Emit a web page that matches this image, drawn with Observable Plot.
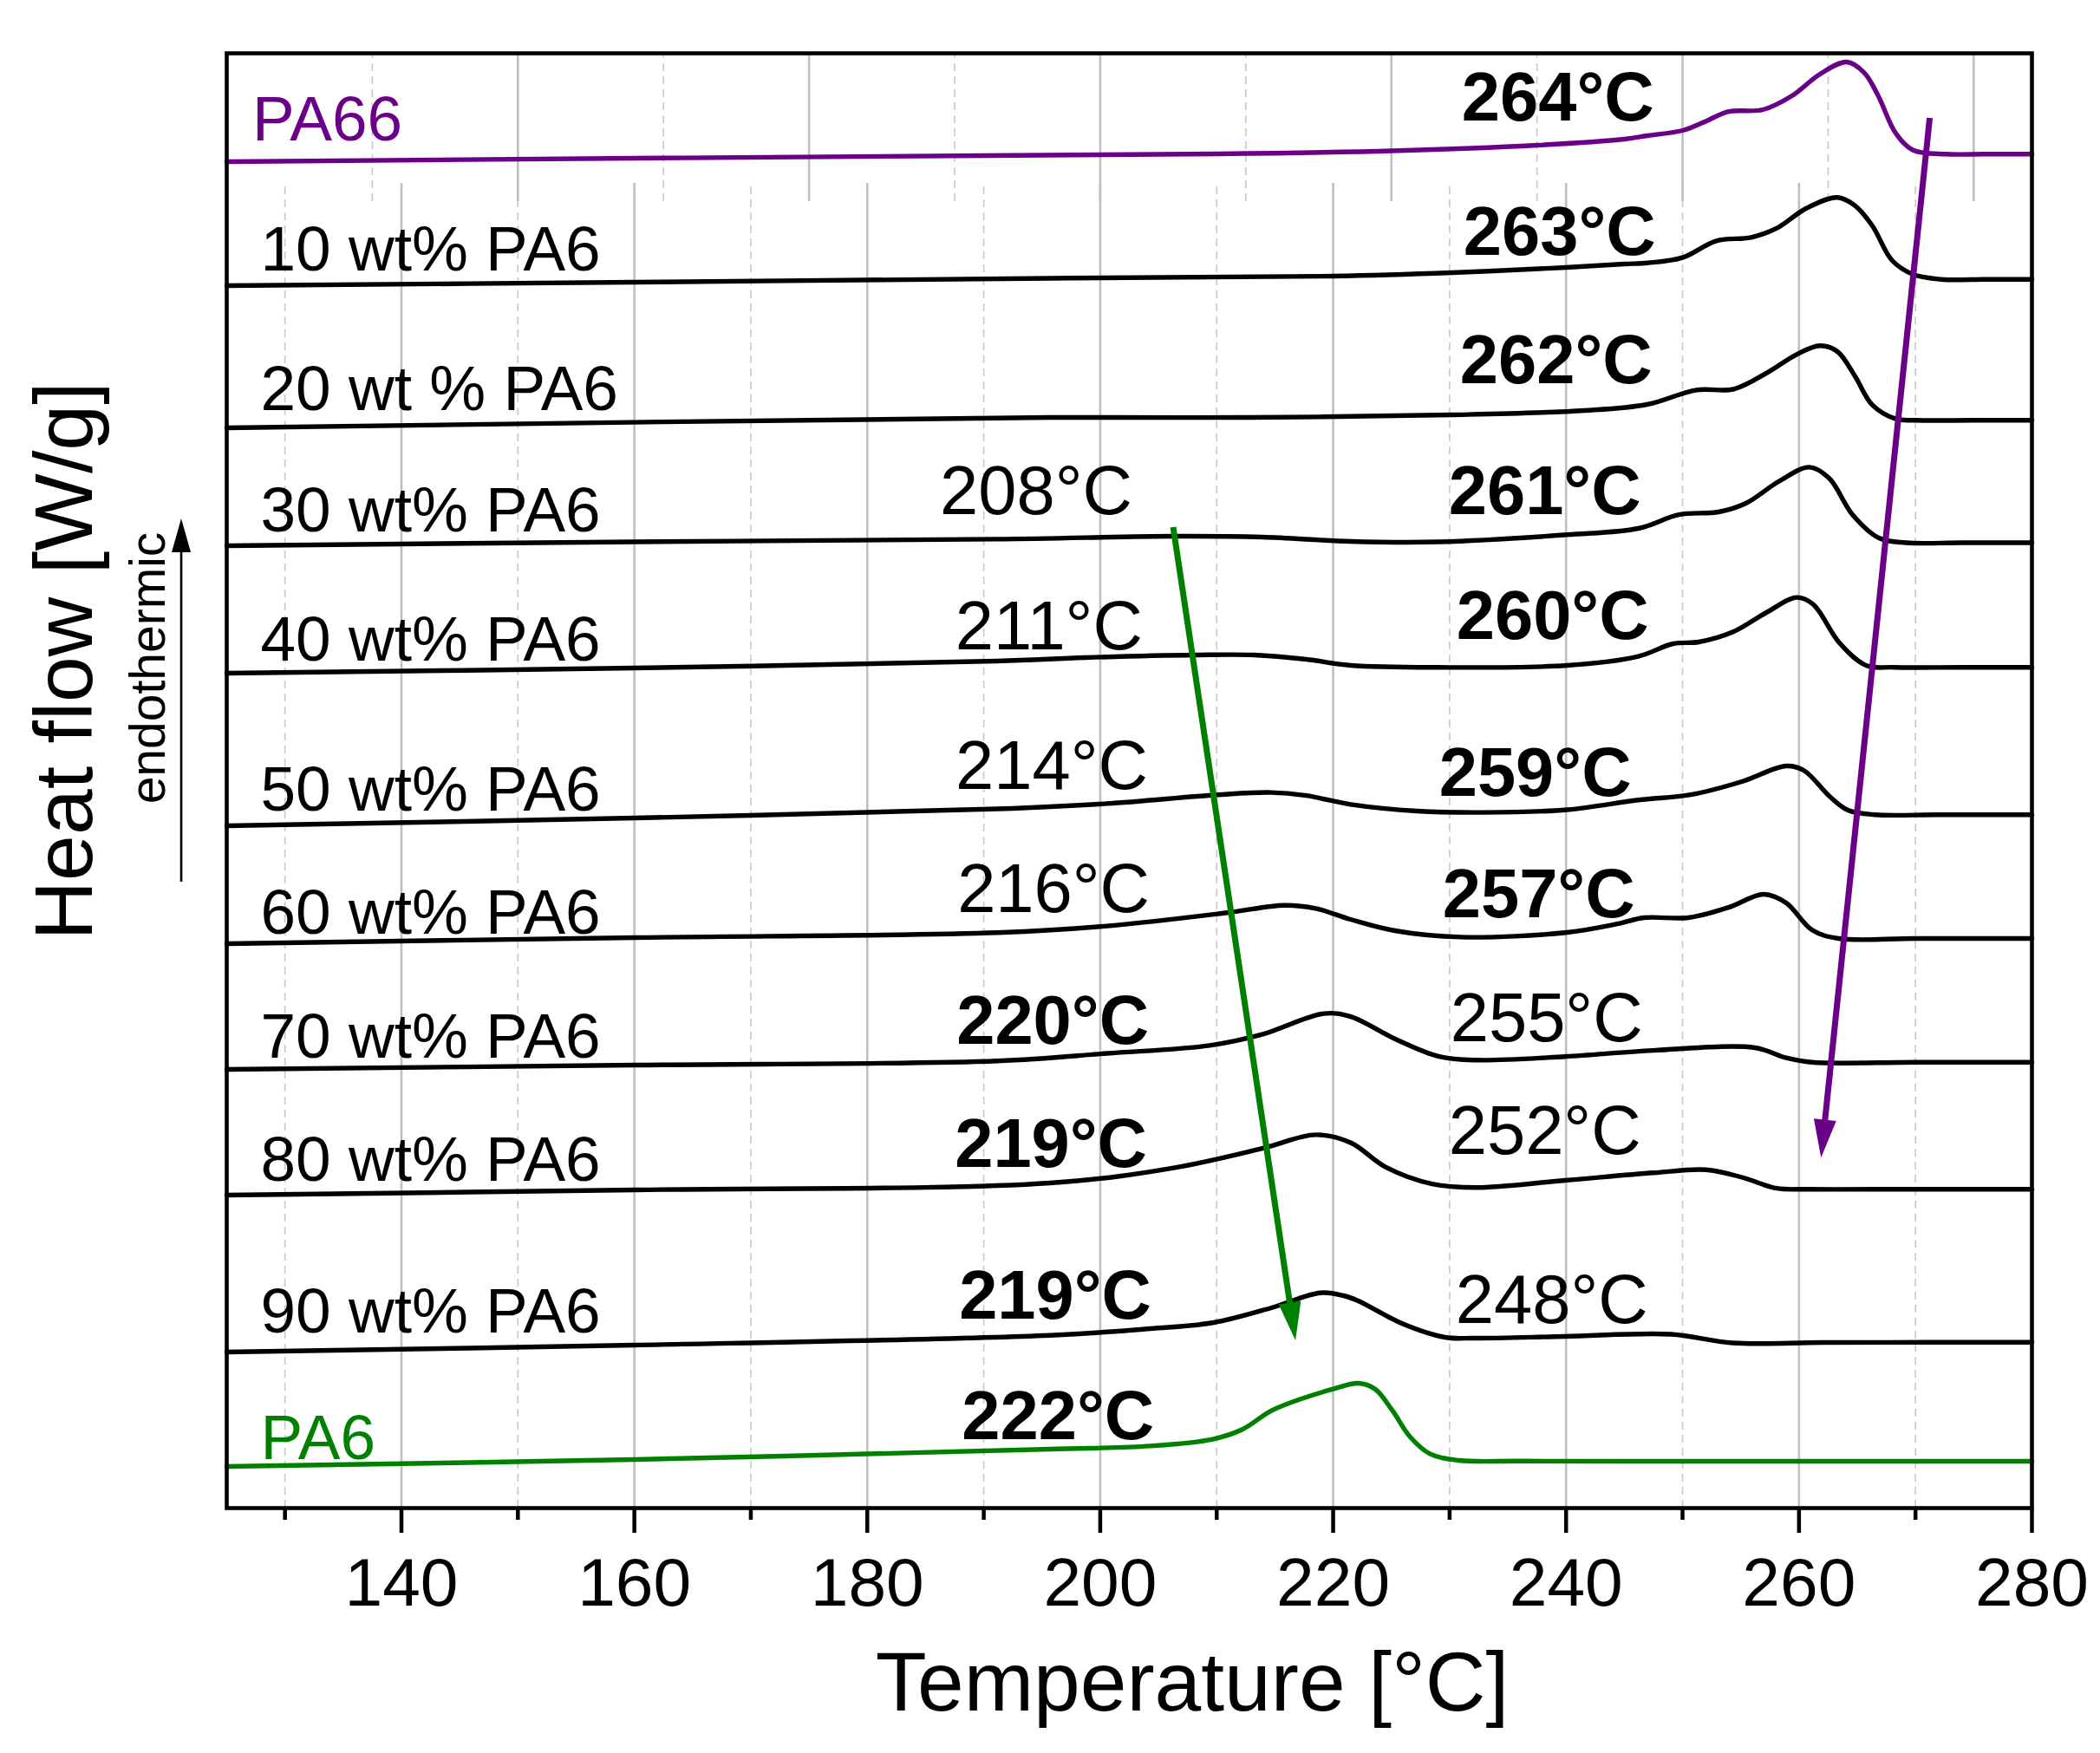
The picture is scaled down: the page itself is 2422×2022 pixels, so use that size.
<!DOCTYPE html>
<html>
<head>
<meta charset="utf-8">
<script src="https://cdn.jsdelivr.net/npm/d3@7"></script>
<script src="https://cdn.jsdelivr.net/npm/@observablehq/plot@0.6"></script>
<style>
  html, body { margin: 0; padding: 0; background: white; }
  #chart svg { display: block; }
</style>
</head>
<body>
<div id="chart"></div>
<script>
// ---- Data (temperature in °C, heat flow in arbitrary offset units) ----
const seriesNames = ["PA66", "10 wt% PA6", "20 wt % PA6", "30 wt% PA6", "40 wt% PA6", "50 wt% PA6",
  "60 wt% PA6", "70 wt% PA6", "80 wt% PA6", "90 wt% PA6", "PA6"];

const pa66 = [[125,155.3],[160,155.7],[190,156.0],[210,156.2],[225,156.55],[237.5,157.2],[245,157.9],[247,158.3],
  [250,158.9],[251.9,159.9],[253.9,161.07],[256.9,161.3],[259.4,162.9],[261.8,165.4],[264.1,166.8],[265.6,165.57],
  [266.8,162.9],[268.3,158.6],[269.8,156.63],[272.7,156.17],[276,156.17],[280,156.17]];
const pa10 = [[125,141.0],[160,141.4],[195.7,141.85],[220,142.1],[230.2,142.5],[240,143.1],[245,143.5],[247,143.63],
  [250,144.23],[252.9,146.17],[255.9,146.57],[258.1,147.63],[260.6,149.9],[263.3,151.17],[264.8,150.23],[266.3,147.9],
  [268,143.9],[269.8,142.3],[272.2,141.73],[276,141.73],[280,141.73]];
const pa20 = [[125,124.6],[195.7,125.8],[212.9,125.8],[230.2,126.1],[241.6,126.6],[246.95,127.3],[251.2,128.97],
  [254.4,129.07],[257.4,131.07],[259.8,133.07],[261.8,134.07],[263.3,133.4],[264.8,130.57],[266.3,127.23],
  [268.3,125.63],[270,125.47],[275,125.47],[280,125.47]];
const pa30 = [[125,111.0],[160,111.45],[191.15,111.76],[206.3,112.1],[213.9,112.0],[221.5,111.5],[229.1,111.45],
  [240.1,112.27],[246.2,113.0],[249.7,114.58],[253.1,114.9],[255.4,115.87],[258.3,118.45],[260.9,120.06],[262.6,118.77],
  [264.6,114.58],[266.9,111.87],[269.2,111.35],[274,111.35],[280,111.35]];
const pa40 = [[125,96.3],[160,96.9],[191.15,97.7],[198.7,98.1],[208.2,98.4],[213.2,98.4],[217.7,97.9],[221.5,97.2],
  [229.1,96.97],[240.1,97.2],[246.2,98.24],[249.2,99.7],[251.4,99.9],[254.3,101.04],[257.2,103.3],[259.8,105.04],
  [261.2,104.26],[263.5,99.75],[265.8,97.17],[268.1,96.98],[274,96.98],[280,96.98]];
const pa50 = [[125,78.7],[160,79.6],[191.15,80.65],[200.6,81.26],[210.1,82.28],[214.7,82.54],[217.7,82.18],[221.5,81.16],
  [227.2,80.4],[232.9,80.24],[240.1,80.55],[246.2,81.67],[250.7,82.28],[255.1,83.8],[258.9,85.6],[260.4,85.1],
  [262.7,82.0],[264.2,80.5],[266.5,79.98],[272,79.98],[280,79.98]];
const pa60 = [[125,65.1],[160,65.8],[191.15,66.37],[200.6,67.14],[210.9,68.67],[215.8,69.53],[218.5,69.17],[221.5,67.9],
  [225.3,66.6],[231,65.86],[240.1,66.4],[244.4,67.38],[246.7,68.1],[250.5,68.1],[253.9,69.26],[257,70.8],[258.9,69.8],
  [261.1,66.7],[263.4,65.7],[270,65.7],[280,65.7]];
const pa70 = [[125,50.6],[160,51.1],[191.15,51.58],[200.6,52.45],[209.4,53.37],[213.9,54.64],[219.2,57.04],[221.5,56.68],
  [225.3,54.13],[229.1,52.09],[232.3,51.67],[239.9,52.08],[247.5,52.79],[256.2,53.1],[258.9,51.93],[261.1,51.42],
  [270,51.42],[280,51.42]];
const pa80 = [[125,36.1],[160,36.7],[195.7,37.5],[206.3,39.24],[213.9,41.48],[218.5,43.06],[221.5,42.15],[224.5,39.34],
  [228.5,37.39],[232.3,36.98],[239.9,37.8],[247.5,38.67],[252,39.02],[255.1,38.15],[258.1,36.88],[260.8,36.78],
  [270,36.78],[280,36.78]];
const pa90 = [[125,18.0],[160,18.8],[195.7,19.93],[204.3,20.7],[209.75,21.4],[214.7,23.1],[218.9,24.83],[220.9,24.5],
  [222.15,23.9],[225.9,21.3],[229.6,19.7],[232,19.6],[239.9,19.8],[249,20.05],[254.3,19.05],[262,19.1],[271,19.12],[280,19.13]];
const pa6 = [[125,4.8],[160,5.6],[195.7,6.8],[204.3,7.16],[209.75,7.97],[212.2,9.07],[214.7,11.23],[217.2,12.57],
  [220,13.73],[222.15,14.4],[223.6,13.73],[225.1,11.23],[226.6,8.23],[228.35,6.23],[230.8,5.5],[236,5.42],
  [248,5.4],[264,5.4],[280,5.4]];
const curves = [pa66, pa10, pa20, pa30, pa40, pa50, pa60, pa70, pa80, pa90, pa6];

// row label anchor (temperature, heat-flow baseline)
const labelT = [127.2, 127.9, 127.9, 127.9, 127.9, 127.9, 127.9, 127.9, 127.9, 127.9, 127.9];
const labelU = [157.8, 142.75, 126.7, 112.7, 97.8, 80.45, 66.3, 52.0, 37.8, 20.3, 5.7];

// peak temperature annotations
const peakText = ["264°C","263°C","262°C","261°C","260°C","259°C","257°C",
  "208°C","211°C","214°C","216°C","220°C","219°C","219°C","222°C","255°C","252°C","248°C"];
const peakT = [239.29,239.44,239.14,238.17,238.84,237.35,237.65,194.5,195.6,195.84,195.99,195.92,195.77,196.14,196.37,238.32,238.17,238.77];
const peakU = [160.04,144.56,129.73,114.7,100.26,82.2,68.2,114.7,99.1,83.0,68.8,53.6,39.4,21.9,8.0,53.9,40.9,21.4];
const peakBold = [1,1,1,1,1,1,1,0,0,0,0,1,1,1,1,0,0,0];

// trend arrows: [t1, u1, t2 (tip), u2 (tip)]
const arrowPA6 = [206.3, 113.1, 216.8, 19.3];
const arrowPA66 = [271.26, 160.3, 261.93, 40.37];
const arrowEndo = [121.13, 72.2, 121.13, 114.1];

// axis ticks and gridlines
const majorTicks = [140, 160, 180, 200, 220, 240, 260, 280];
const minorTicks = [130, 150, 170, 190, 210, 230, 250, 270];
const gridMajor = [140, 160, 180, 200, 220, 240, 260];
const gridMinor = [130, 150, 170, 190, 210, 230, 250, 270];
const topGridMajor = [150, 175, 200, 225, 250, 275];
const topGridMinor = [137.5, 162.5, 187.5, 212.5, 237.5, 262.5];
const gridBottomTop = [0, 152.8];   // main layer grid extent
const gridTopRange = [150.7, 167.8]; // PA66 layer grid extent

// ---- Styles ----
const PURPLE = "#6a0088", GREEN = "#008000";
const seriesColor = seriesNames.map((n, i) => i === 0 ? PURPLE : i === seriesNames.length - 1 ? GREEN : "black");
const FONT = "'Liberation Sans', Arial, Helvetica, sans-serif";

const curveRows = curves.flatMap((c, i) => c.map(([t, u]) => ({series: seriesNames[i], t, u, color: seriesColor[i]})));
const labelRows = seriesNames.map((n, i) => ({name: n, t: labelT[i], u: labelU[i], color: seriesColor[i]}));
const peakRows = peakText.map((s, i) => ({text: s, t: peakT[i], u: peakU[i], bold: peakBold[i] === 1}));

function arrowMark(spec, color, width, headLen, headHalf) {
  return (index, scales) => {
    const [t1, u1, t2, u2] = spec;
    const x1 = scales.x(t1), y1 = scales.y(u1), x2 = scales.x(t2), y2 = scales.y(u2);
    const dx = x2 - x1, dy = y2 - y1, L = Math.hypot(dx, dy);
    const ux = dx / L, uy = dy / L;
    const bx = x2 - ux * headLen, by = y2 - uy * headLen;
    const g = d3.create("svg:g");
    g.append("line").attr("x1", x1).attr("y1", y1).attr("x2", bx + ux * 2).attr("y2", by + uy * 2)
      .attr("stroke", color).attr("stroke-width", width);
    g.append("path")
      .attr("d", `M${x2},${y2}L${bx - uy * headHalf},${by + ux * headHalf}L${bx + uy * headHalf},${by - ux * headHalf}Z`)
      .attr("fill", color);
    return g.node();
  };
}

const chart = Plot.plot({
  width: 2422,
  height: 2022,
  marginLeft: 261,
  marginRight: 79,
  marginTop: 61,
  marginBottom: 283,
  style: {fontFamily: FONT, background: "white", overflow: "visible"},
  x: {domain: [125, 280]},
  y: {domain: [0, 167.8], axis: null},
  color: {type: "identity"},
  marks: [
    // gridlines
    Plot.ruleX(gridMinor, {y1: gridBottomTop[0], y2: gridBottomTop[1], stroke: "#c8c8c8", strokeWidth: 1.6, strokeDasharray: "9,6"}),
    Plot.ruleX(gridMajor, {y1: gridBottomTop[0], y2: gridBottomTop[1], stroke: "#c0c0c0", strokeWidth: 2.6}),
    Plot.ruleX(topGridMinor, {y1: gridTopRange[0], y2: gridTopRange[1], stroke: "#c8c8c8", strokeWidth: 1.6, strokeDasharray: "9,6"}),
    Plot.ruleX(topGridMajor, {y1: gridTopRange[0], y2: gridTopRange[1], stroke: "#c0c0c0", strokeWidth: 2.6}),
    // curves
    Plot.line(curveRows, {x: "t", y: "u", z: "series", stroke: "color", strokeWidth: 5.4, curve: "catmull-rom", strokeLinejoin: "round"}),
    // row labels
    Plot.text(labelRows, {x: "t", y: "u", text: "name", fill: "color", textAnchor: "start", lineAnchor: "bottom", fontSize: 73}),
    // peak annotations
    Plot.text(peakRows.filter(d => d.bold), {x: "t", y: "u", text: "text", textAnchor: "middle", lineAnchor: "bottom", fontSize: 79.5, fontWeight: "bold", fill: "black"}),
    Plot.text(peakRows.filter(d => !d.bold), {x: "t", y: "u", text: "text", textAnchor: "middle", lineAnchor: "bottom", fontSize: 79.5, fill: "black"}),
    // trend arrows
    arrowMark(arrowPA6, GREEN, 7, 44, 13),
    arrowMark(arrowPA66, PURPLE, 7, 44, 13),
    arrowMark(arrowEndo, "black", 2.6, 39, 11),
    // axes
    Plot.axisX(minorTicks, {tickSize: 14, strokeWidth: 4.5, tickFormat: () => "", label: null}),
    Plot.axisX(majorTicks, {tickSize: 29, tickPadding: 28, strokeWidth: 4.5, fontSize: 78.5, tickFormat: d => String(d), label: null, fill: "black"}),
    Plot.text(["Temperature [°C]"], {x: 207.9, y: -23.3, text: d => d, textAnchor: "middle", lineAnchor: "bottom", fontSize: 96.5, fill: "black"}),
    Plot.text(["Heat flow [W/g]"], {x: 113.4, y: 97.7, text: d => d, rotate: -90, textAnchor: "middle", lineAnchor: "bottom", fontSize: 95, fill: "black"}),
    Plot.text(["endothermic"], {x: 119.7, y: 96.9, text: d => d, rotate: -90, textAnchor: "middle", lineAnchor: "bottom", fontSize: 57, fill: "black"}),
    Plot.frame({stroke: "black", strokeWidth: 4.6})
  ]
});
document.getElementById("chart").appendChild(chart);
</script>
</body>
</html>
